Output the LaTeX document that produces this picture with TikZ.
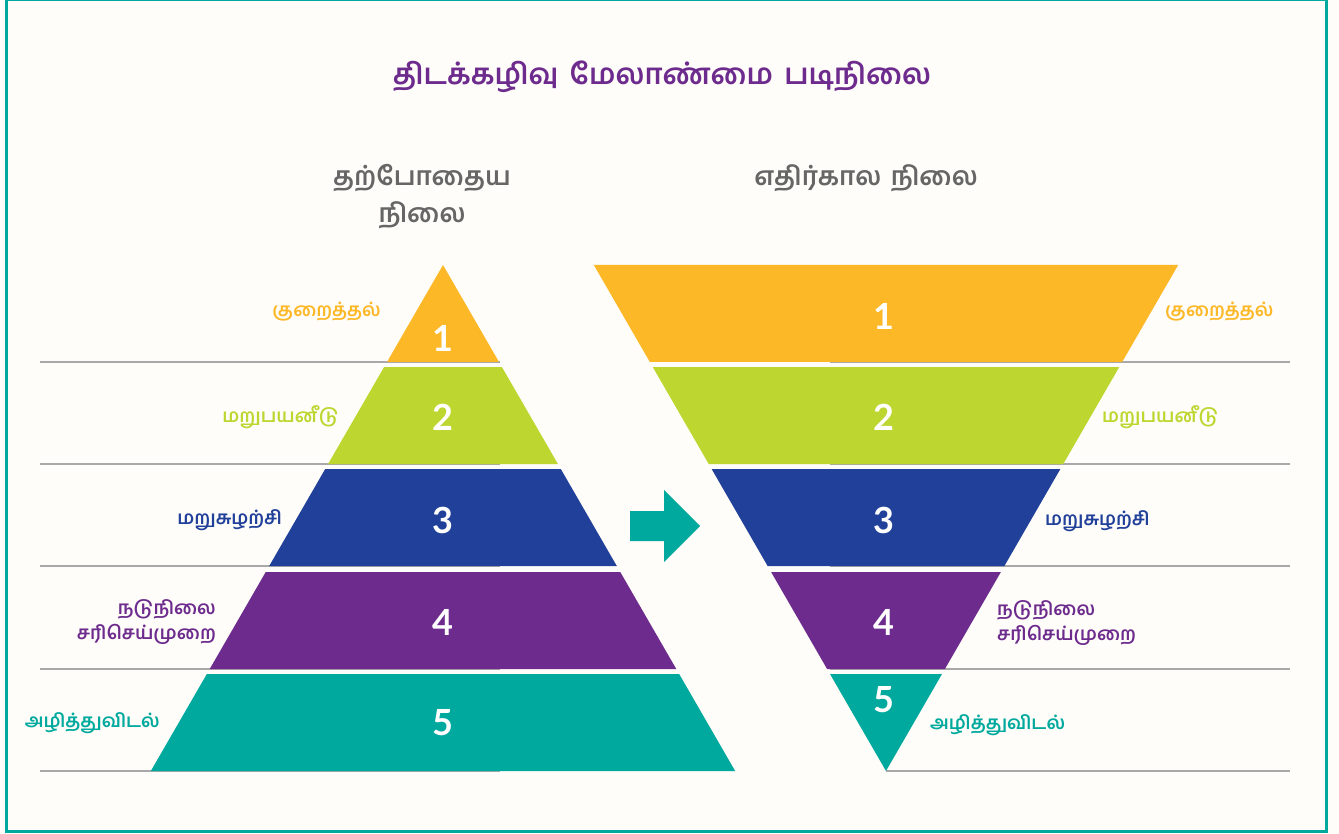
\documentclass[tikz,border=0pt]{standalone}
\usepackage{fontspec}
\setmainfont{Lato}
\newfontfamily\tam[Script=Tamil]{Hind Madurai}
\definecolor{cOr}{HTML}{FDB827}
\definecolor{cGr}{HTML}{BED630}
\definecolor{cBl}{HTML}{21409A}
\definecolor{cPu}{HTML}{6D2B8D}
\definecolor{cTe}{HTML}{00A99D}
\definecolor{cGy}{HTML}{666666}
\definecolor{cLn}{HTML}{A8A8A8}
\definecolor{cBg}{HTML}{FEFDF9}
\tikzset{
  gline/.style={draw=cLn, line width=1.6pt},
  num/.style={text=white, font=\fontsize{36}{40}\selectfont\bfseries, inner sep=0pt},
  lbl/.style={font=\tam\fontsize{18.6}{25}\selectfont\bfseries, inner sep=0pt, align=right},
  rlbl/.style={font=\tam\fontsize{18.6}{25}\selectfont\bfseries, inner sep=0pt, align=left},
  hdr/.style={text=cGy, font=\tam\fontsize{26}{37}\selectfont\bfseries, inner sep=0pt, align=center},
}
\begin{document}
\begin{tikzpicture}[x=1pt, y=-1pt]
\useasboundingbox (0,0) rectangle (1339,834);
\fill[cBg] (0,0) rectangle (1339,834);
\draw[cTe, line width=3pt] (6,0) rectangle (1326,831);
% title
\node[text=cPu, font=\tam\fontsize{29}{34}\selectfont\bfseries, inner sep=0pt] (title) at (662,77) {திடக்கழிவு\hspace{4pt} மேலாண்மை\hspace{4pt} படிநிலை};
\node[hdr] (hleft) at (422,197) {தற்போதைய\\நிலை};
\node[hdr] (hright) at (866,178) {எதிர்கால\hspace{3pt} நிலை};
% gray lines
\foreach \yy in {362,464,566,669,771} {
  \draw[gline] (40,\yy) -- (500,\yy);
}
\foreach \yy in {362,464,566,669} {
  \draw[gline] (830,\yy) -- (1290,\yy);
}
\draw[gline] (886,771) -- (1290,771);
% left pyramid
\foreach \t/\b/\c in {265/362/cOr, 367/464/cGr, 469/566/cBl, 572/669/cPu, 674/771/cTe} {
  \fill[\c] ({443-0.5774*(\t-265)},\t) -- ({443+0.5774*(\t-265)},\t)
            -- ({443+0.5774*(\b-265)},\b) -- ({443-0.5774*(\b-265)},\b) -- cycle;
}
% right inverted pyramid
\foreach \t/\b/\c in {265/362/cOr, 367/464/cGr, 469/566/cBl, 572/669/cPu, 674/771/cTe} {
  \fill[\c] ({886-0.5774*(771-\t)},\t) -- ({886+0.5774*(771-\t)},\t)
            -- ({886+0.5774*(771-\b)},\b) -- ({886-0.5774*(771-\b)},\b) -- cycle;
}
% arrow
\fill[cTe] (630,511) -- (664,511) -- (664,490) -- (700,526) -- (664,562) -- (664,541) -- (630,541) -- cycle;
% numbers left
\node[num] (l1) at (443,338) {1};
\node[num] (l2) at (443,417) {2};
\node[num] (l3) at (443,520) {3};
\node[num] (l4) at (443,622) {4};
\node[num] (l5) at (443,723) {5};
% numbers right
\node[num] (r1) at (884,316) {1};
\node[num] (r2) at (884,417) {2};
\node[num] (r3) at (884,520) {3};
\node[num] (r4) at (884,622) {4};
\node[num] (r5) at (884,700) {5};
% labels left
\node[lbl, text=cOr, anchor=east] (ll1) at (381,312) {குறைத்தல்};
\node[lbl, text=cGr, anchor=east] (ll2) at (339,417) {மறுபயனீடு};
\node[lbl, text=cBl, anchor=east] (ll3) at (282,520) {மறுசுழற்சி};
\node[lbl, text=cPu, anchor=east] (ll4) at (216,622) {நடுநிலை\\சரிசெய்முறை};
\node[lbl, text=cTe, anchor=east] (ll5) at (160,723) {அழித்துவிடல்};
% labels right
\node[rlbl, text=cOr, anchor=west] (rl1) at (1165,312) {குறைத்தல்};
\node[rlbl, text=cGr, anchor=west] (rl2) at (1102,417) {மறுபயனீடு};
\node[rlbl, text=cBl, anchor=west] (rl3) at (1045,521) {மறுசுழற்சி};
\node[rlbl, text=cPu, anchor=west] (rl4) at (997,623) {நடுநிலை\\சரிசெய்முறை};
\node[rlbl, text=cTe, anchor=west] (rl5) at (930,725) {அழித்துவிடல்};
\end{tikzpicture}
\end{document}
